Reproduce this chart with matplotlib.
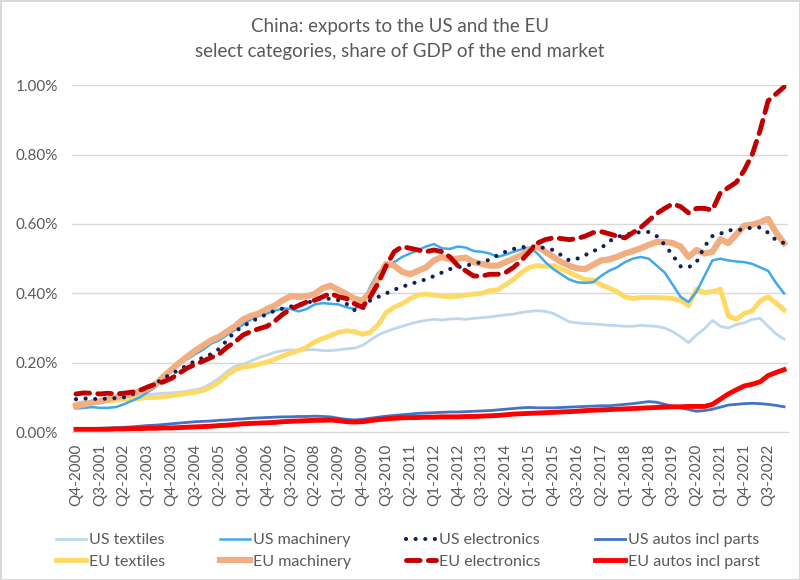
import numpy as np
import matplotlib
matplotlib.use('Agg')
import matplotlib.pyplot as plt
from matplotlib.ticker import FuncFormatter

plt.rcParams['font.family'] = ['Lato', 'DejaVu Sans']

# quarters Q4-2000 .. Q1-2023
quarters = ['Q4-2000'] + ['Q%d-%d' % (q, y) for y in range(2001, 2023) for q in range(1, 5)] + ['Q1-2023']

# values in % of GDP of the end market
us_textiles = [
    0.085, 0.088, 0.090, 0.092, 0.095, 0.098, 0.100, 0.103, 0.105, 0.108,
    0.110, 0.112, 0.113, 0.115, 0.118, 0.122, 0.128, 0.140, 0.155, 0.175,
    0.190, 0.195, 0.205, 0.215, 0.222, 0.230, 0.235, 0.237, 0.235, 0.237,
    0.238, 0.235, 0.235, 0.237, 0.240, 0.242, 0.250, 0.265, 0.280, 0.290,
    0.298, 0.305, 0.312, 0.318, 0.322, 0.325, 0.323, 0.326, 0.327, 0.325,
    0.328, 0.330, 0.332, 0.335, 0.338, 0.340, 0.345, 0.348, 0.350, 0.348,
    0.342, 0.330, 0.318, 0.315, 0.313, 0.312, 0.310, 0.308, 0.307, 0.305,
    0.305, 0.308, 0.306, 0.305, 0.300, 0.290, 0.275, 0.258, 0.280, 0.298,
    0.322, 0.305, 0.300, 0.310, 0.315, 0.325, 0.328, 0.305, 0.283, 0.268]
us_machinery = [
    0.068, 0.070, 0.072, 0.070, 0.070, 0.072, 0.080, 0.090, 0.100, 0.115,
    0.130, 0.155, 0.180, 0.200, 0.210, 0.225, 0.238, 0.255, 0.265, 0.280,
    0.295, 0.310, 0.325, 0.335, 0.342, 0.350, 0.357, 0.355, 0.348, 0.355,
    0.368, 0.372, 0.370, 0.368, 0.360, 0.355, 0.370, 0.420, 0.460, 0.480,
    0.490, 0.505, 0.515, 0.525, 0.535, 0.542, 0.530, 0.528, 0.535, 0.532,
    0.522, 0.520, 0.515, 0.505, 0.512, 0.520, 0.527, 0.532, 0.515, 0.490,
    0.470, 0.455, 0.440, 0.432, 0.430, 0.432, 0.450, 0.465, 0.475, 0.490,
    0.500, 0.505, 0.500, 0.480, 0.460, 0.425, 0.390, 0.375, 0.405, 0.450,
    0.495, 0.500, 0.495, 0.492, 0.490, 0.485, 0.475, 0.465, 0.430, 0.400]
us_electronics = [
    0.095, 0.097, 0.096, 0.095, 0.097, 0.098, 0.100, 0.108, 0.120, 0.130,
    0.140, 0.155, 0.168, 0.180, 0.193, 0.205, 0.215, 0.225, 0.240, 0.265,
    0.290, 0.305, 0.318, 0.330, 0.340, 0.350, 0.356, 0.362, 0.368, 0.372,
    0.380, 0.386, 0.384, 0.380, 0.370, 0.352, 0.355, 0.380, 0.390, 0.400,
    0.410, 0.420, 0.425, 0.435, 0.440, 0.450, 0.460, 0.470, 0.475, 0.480,
    0.485, 0.490, 0.497, 0.510, 0.520, 0.528, 0.533, 0.535, 0.535, 0.530,
    0.525, 0.510, 0.495, 0.500, 0.510, 0.522, 0.530, 0.550, 0.562, 0.570,
    0.573, 0.577, 0.577, 0.565, 0.540, 0.510, 0.478, 0.475, 0.490, 0.535,
    0.565, 0.572, 0.582, 0.582, 0.585, 0.590, 0.590, 0.575, 0.553, 0.545]
us_autos = [
    0.010, 0.010, 0.010, 0.011, 0.012, 0.013, 0.014, 0.015, 0.017, 0.019,
    0.020, 0.022, 0.024, 0.026, 0.028, 0.030, 0.031, 0.032, 0.034, 0.035,
    0.037, 0.038, 0.040, 0.041, 0.042, 0.043, 0.044, 0.044, 0.045, 0.045,
    0.046, 0.045, 0.044, 0.040, 0.037, 0.035, 0.037, 0.040, 0.043, 0.046,
    0.048, 0.050, 0.052, 0.054, 0.055, 0.056, 0.057, 0.058, 0.058, 0.059,
    0.060, 0.061, 0.062, 0.064, 0.066, 0.068, 0.070, 0.071, 0.070, 0.070,
    0.070, 0.071, 0.072, 0.073, 0.074, 0.075, 0.076, 0.076, 0.078, 0.080,
    0.082, 0.085, 0.088, 0.086, 0.080, 0.075, 0.070, 0.065, 0.060, 0.062,
    0.066, 0.072, 0.078, 0.080, 0.082, 0.083, 0.082, 0.080, 0.077, 0.073]
eu_textiles = [
    0.080, 0.083, 0.086, 0.088, 0.090, 0.092, 0.094, 0.095, 0.097, 0.100,
    0.100, 0.102, 0.105, 0.108, 0.112, 0.115, 0.120, 0.130, 0.145, 0.165,
    0.180, 0.188, 0.190, 0.196, 0.202, 0.210, 0.220, 0.228, 0.235, 0.245,
    0.260, 0.270, 0.278, 0.288, 0.292, 0.290, 0.282, 0.288, 0.310, 0.345,
    0.360, 0.370, 0.385, 0.395, 0.398, 0.395, 0.392, 0.390, 0.392, 0.395,
    0.398, 0.400, 0.408, 0.410, 0.425, 0.440, 0.460, 0.475, 0.480, 0.478,
    0.480, 0.470, 0.460, 0.450, 0.440, 0.438, 0.425, 0.415, 0.405, 0.390,
    0.385, 0.388, 0.388, 0.388, 0.387, 0.385, 0.380, 0.365, 0.412, 0.402,
    0.405, 0.412, 0.335, 0.325, 0.342, 0.350, 0.378, 0.390, 0.372, 0.352]
eu_machinery = [
    0.075, 0.080, 0.085, 0.088, 0.095, 0.100, 0.105, 0.110, 0.118, 0.125,
    0.138, 0.160, 0.180, 0.200, 0.218, 0.235, 0.250, 0.265, 0.275, 0.290,
    0.305, 0.325, 0.335, 0.342, 0.355, 0.365, 0.380, 0.392, 0.390, 0.392,
    0.398, 0.415, 0.422, 0.410, 0.398, 0.385, 0.378, 0.405, 0.445, 0.485,
    0.480, 0.462, 0.455, 0.465, 0.475, 0.495, 0.505, 0.498, 0.500, 0.503,
    0.490, 0.485, 0.480, 0.480, 0.490, 0.500, 0.510, 0.525, 0.535, 0.520,
    0.505, 0.490, 0.480, 0.472, 0.470, 0.482, 0.495, 0.498, 0.505, 0.515,
    0.522, 0.530, 0.540, 0.548, 0.548, 0.545, 0.535, 0.505, 0.525, 0.515,
    0.520, 0.556, 0.545, 0.570, 0.595, 0.598, 0.605, 0.615, 0.575, 0.545]
eu_electronics = [
    0.110, 0.113, 0.112, 0.110, 0.112, 0.110, 0.112, 0.115, 0.120, 0.130,
    0.138, 0.145, 0.155, 0.170, 0.185, 0.195, 0.205, 0.215, 0.225, 0.245,
    0.260, 0.280, 0.290, 0.298, 0.305, 0.320, 0.340, 0.355, 0.365, 0.375,
    0.380, 0.390, 0.400, 0.390, 0.385, 0.370, 0.360, 0.390, 0.430, 0.480,
    0.520, 0.535, 0.530, 0.525, 0.520, 0.525, 0.520, 0.505, 0.480, 0.465,
    0.450, 0.450, 0.455, 0.455, 0.460, 0.475, 0.495, 0.520, 0.545, 0.555,
    0.560, 0.558, 0.555, 0.558, 0.565, 0.575, 0.578, 0.572, 0.565, 0.560,
    0.575, 0.590, 0.610, 0.630, 0.645, 0.658, 0.650, 0.632, 0.645, 0.645,
    0.640, 0.690, 0.705, 0.720, 0.755, 0.800, 0.870, 0.955, 0.975, 0.995]
eu_autos = [
    0.008, 0.008, 0.008, 0.008, 0.008, 0.009, 0.009, 0.010, 0.010, 0.011,
    0.011, 0.012, 0.012, 0.013, 0.014, 0.015, 0.016, 0.017, 0.019, 0.020,
    0.022, 0.024, 0.025, 0.026, 0.027, 0.028, 0.030, 0.031, 0.032, 0.033,
    0.034, 0.034, 0.035, 0.033, 0.030, 0.029, 0.030, 0.033, 0.036, 0.038,
    0.040, 0.041, 0.042, 0.042, 0.043, 0.043, 0.044, 0.044, 0.044, 0.045,
    0.045, 0.046, 0.047, 0.048, 0.050, 0.052, 0.053, 0.054, 0.055, 0.056,
    0.057, 0.058, 0.059, 0.060, 0.062, 0.063, 0.064, 0.065, 0.066, 0.067,
    0.068, 0.069, 0.070, 0.071, 0.072, 0.073, 0.073, 0.074, 0.074, 0.074,
    0.080, 0.095, 0.110, 0.122, 0.133, 0.138, 0.145, 0.163, 0.172, 0.180]

x = np.arange(len(quarters))

fig = plt.figure(figsize=(8, 5.8), dpi=100)
ax = fig.add_axes([0.09, 0.255, 0.895, 0.598])

l_ustex, = ax.plot(x, us_textiles, color='#BDD7EE', lw=2, label='US textiles')
l_eutex, = ax.plot(x, eu_textiles, color='#FFD966', lw=3.5, label='EU textiles')
l_usmac, = ax.plot(x, us_machinery, color='#3FA9EA', lw=1.8, label='US machinery')
l_eumac, = ax.plot(x, eu_machinery, color='#F0AE82', lw=4.5, label='EU machinery')
l_usaut, = ax.plot(x, us_autos, color='#4472C4', lw=2, label='US autos incl parts')
l_euaut, = ax.plot(x, eu_autos, color='#FF0000', lw=3.5, label='EU autos incl parst')
l_usele, = ax.plot(x, us_electronics, color='#14205A', lw=3, linestyle=(0, (0.01, 2.3)),
                   dash_capstyle='round', label='US electronics')
l_euele, = ax.plot(x, eu_electronics, color='#C00000', lw=3.5, linestyle=(0, (2.8, 1.7)),
                   dash_capstyle='round', label='EU electronics')

ax.set_xlim(-0.5, len(quarters) - 0.5)
ax.set_ylim(0, 1.0)
ax.set_yticks(np.arange(0, 1.01, 0.2))
ax.yaxis.set_major_formatter(FuncFormatter(lambda v, p: '%.2f%%' % v))
ax.set_xticks(x[::3])
ax.set_xticklabels(quarters[::3], rotation=90)
ax.tick_params(axis='both', length=0, labelsize=11, labelcolor='#595959')
ax.tick_params(axis='x', pad=8)
ax.tick_params(axis='y', pad=10)
ax.grid(axis='y', color='#D9D9D9', lw=1)
ax.set_axisbelow(True)
for s in ['top', 'right', 'left']:
    ax.spines[s].set_visible(False)
ax.spines['bottom'].set_color('#D9D9D9')

fig.text(0.5, 0.955, 'China: exports to the US and the EU', ha='center', va='center',
         fontsize=13.5, color='#595959')
fig.text(0.5, 0.912, 'select categories, share of GDP of the end market', ha='center', va='center',
         fontsize=13.5, color='#595959')

handles = [l_ustex, l_eutex, l_usmac, l_eumac, l_usele, l_euele, l_usaut, l_euaut]
fig.legend(handles=handles, labels=[h.get_label() for h in handles], ncol=4,
           loc='center', bbox_to_anchor=(0.51, 0.05), frameon=False, fontsize=11.5,
           labelcolor='#595959', handlelength=1.9, handletextpad=0.2, columnspacing=3.4,
           labelspacing=0.45)

fig.patch.set_edgecolor('#D9D9D9')
fig.patch.set_linewidth(2)

fig.savefig('out.png', dpi=100, edgecolor=fig.get_edgecolor())
